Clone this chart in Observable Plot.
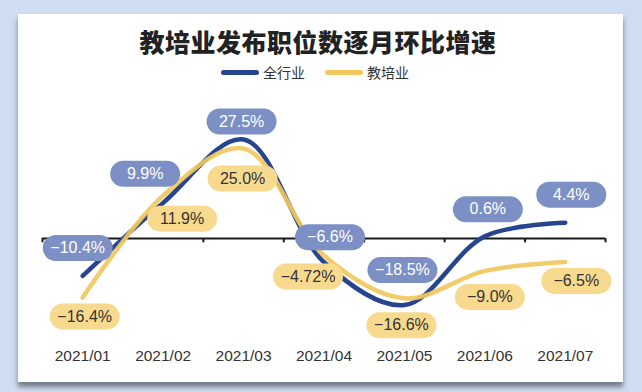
<!DOCTYPE html>
<html>
<head>
<meta charset="utf-8">
<script src="https://cdn.jsdelivr.net/npm/d3@7"></script>
<script src="https://cdn.jsdelivr.net/npm/@observablehq/plot@0.6"></script>
<style>
  html, body { margin: 0; padding: 0; }
  body { width: 642px; height: 392px; background: #cfddf2; position: relative; overflow: hidden;
         font-family: "Liberation Sans", Arial, sans-serif; }
  #panel { position: absolute; left: 18px; top: 14px; width: 605px; height: 368px; background: #fff;
           box-shadow: 0 5px 5px rgba(40,40,50,0.55); }
  #title { position: absolute; left: 0; width: 636px; top: 25px; text-align: center;
           font-family: "Noto Sans CJK SC", sans-serif; font-weight: 900; font-size: 25px;
           color: #222; letter-spacing: 0.5px; line-height: 32px; }
  #legend { position: absolute; left: 0; width: 630px; top: 62px; display: flex; justify-content: center;
            align-items: center; font-family: "Noto Sans CJK SC", sans-serif; font-size: 14px; color: #333; line-height: 20px; }
  .sw { display: inline-block; width: 38px; height: 5px; border-radius: 3px; margin-right: 4px; }
  .item { display: flex; align-items: center; margin: 0 10px; }
  #chart { position: absolute; left: 0; top: 0; }
</style>
</head>
<body>
<div id="panel"></div>
<div id="title">教培业发布职位数逐月环比增速</div>
<div id="legend"></div>
<div id="chart"></div>
<script>
// ---- data ----
const months = ["2021/01", "2021/02", "2021/03", "2021/04", "2021/05", "2021/06", "2021/07"];
const seriesNames = ["全行业", "教培业"];
const allIndustry = [-10.4, 9.9, 27.5, -6.6, -18.5, 0.6, 4.4];
const eduTraining = [-16.4, 11.9, 25.0, -4.72, -16.6, -9.0, -6.5];
const allLabels = ["−10.4%", "9.9%", "27.5%", "−6.6%", "−18.5%", "0.6%", "4.4%"];
const eduLabels = ["−16.4%", "11.9%", "25.0%", "−4.72%", "−16.6%", "−9.0%", "−6.5%"];

// ---- layout nudges for the value bubbles (pixels) ----
const allNudge = [[-5, -28], [-18, -29], [-2, -18], [6, -25], [-2, -35], [3, -27], [6, -28]];
const eduNudge = [[2, 19], [19, 23], [-1, 30], [-16, 21], [-3, 27], [5, 26], [11, 19]];

const colors = {blue: "#27458f", yellow: "#f1c85e", blueBox: "#7d90c6", yellowBox: "#f8da8f"};

const rows = [];
months.forEach((m, i) => {
  rows.push({series: seriesNames[0], i, month: m, v: allIndustry[i], label: allLabels[i], dx: allNudge[i][0], dy: allNudge[i][1]});
});
months.forEach((m, i) => {
  rows.push({series: seriesNames[1], i, month: m, v: eduTraining[i], label: eduLabels[i], dx: eduNudge[i][0], dy: eduNudge[i][1]});
});
const blueRows = rows.filter(d => d.series === seriesNames[0]);
const yellowRows = rows.filter(d => d.series === seriesNames[1]);
const edges = d3.range(months.length + 1).map(k => k - 0.5);

// legend
const legend = document.getElementById("legend");
[[seriesNames[0], colors.blue], [seriesNames[1], colors.yellow]].forEach(([n, c]) => {
  const it = document.createElement("div");
  it.className = "item";
  it.innerHTML = `<span class="sw" style="background:${c}"></span><span>${n}</span>`;
  legend.appendChild(it);
});

// rounded pill symbol
const pill = {
  draw(ctx) {
    const w = 70, h = 26, r = 13;
    const x0 = -w / 2, y0 = -h / 2;
    ctx.moveTo(x0 + r, y0);
    ctx.lineTo(x0 + w - r, y0);
    ctx.arcTo(x0 + w, y0, x0 + w, y0 + r, r);
    ctx.arcTo(x0 + w, y0 + h, x0 + w - r, y0 + h, r);
    ctx.lineTo(x0 + r, y0 + h);
    ctx.arcTo(x0, y0 + h, x0, y0 + h - r, r);
    ctx.arcTo(x0, y0, x0 + r, y0, r);
    ctx.closePath();
  }
};

function shift(data, sel) {
  return function(index, scales, values, dims, ctx, next) {
    const g = next(index, scales, values, dims, ctx);
    d3.select(g).selectAll(sel).each(function(_, k) {
      const d = data[index[k]];
      const t = this.getAttribute("transform") || "";
      this.setAttribute("transform", t + ` translate(${d.dx},${d.dy})`);
    });
    return g;
  };
}

function bubbles(data, fill, textFill) {
  return [
    Plot.dot(data, {x: "i", y: "v", symbol: pill, r: 10, fill, stroke: "none", render: shift(data, "path")}),
    Plot.text(data, {x: "i", y: "v", text: "label", fill: textFill, fontSize: 16,
      fontFamily: "Liberation Sans, Arial, sans-serif", render: shift(data, "text")})
  ];
}

const plot = Plot.plot({
  width: 642,
  height: 392,
  marginLeft: 42,
  marginRight: 37,
  marginTop: 112,
  marginBottom: 46,
  style: {background: "transparent", fontFamily: "Liberation Sans, Arial, sans-serif", color: "#333"},
  x: {type: "linear", domain: [-0.5, months.length - 0.5], axis: null},
  y: {type: "linear", domain: [-30, 35], axis: null},
  marks: [
    Plot.axisX({ticks: d3.range(months.length), tickFormat: i => months[i], tickSize: 0, tickPadding: 3,
      fontSize: 15.5, fill: "#333", fontWeight: "normal", label: null}),
    Plot.ruleY([0], {stroke: "#1a1a1a", strokeWidth: 2}),
    Plot.ruleX(edges, {x: d => d, y1: 0, y2: -1.2, stroke: "#1a1a1a", strokeWidth: 2}),
    Plot.line(blueRows, {x: "i", y: "v", curve: "catmull-rom", stroke: colors.blue, strokeWidth: 4.5, strokeLinecap: "round"}),
    Plot.line(yellowRows, {x: "i", y: "v", curve: "catmull-rom", stroke: colors.yellow, strokeWidth: 4.5, strokeLinecap: "round", strokeOpacity: 0.92}),
    ...bubbles(blueRows, colors.blueBox, "#ffffff"),
    ...bubbles(yellowRows, colors.yellowBox, "#333333")
  ]
});
document.getElementById("chart").appendChild(plot);
</script>
</body>
</html>
